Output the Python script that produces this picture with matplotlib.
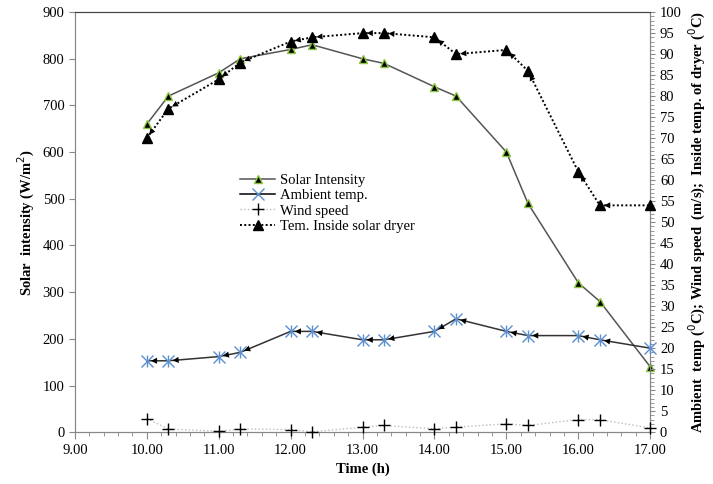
import matplotlib.pyplot as plt
from matplotlib.lines import Line2D
from matplotlib.ticker import MultipleLocator

plt.rcParams['font.family'] = ['Liberation Serif', 'DejaVu Serif']

# data
time = [10.0, 10.3, 11.0, 11.3, 12.0, 12.3, 13.0, 13.3, 14.0, 14.3, 15.0, 15.3, 16.0, 16.3, 17.0]
solar = [660, 720, 770, 800, 820, 830, 800, 790, 740, 720, 600, 490, 320, 280, 140]
ambient = [17, 17, 18, 19, 24, 24, 22, 22, 24, 27, 24, 23, 23, 22, 20]
wind = [3.2, 0.8, 0.2, 0.8, 0.6, 0.1, 1.2, 1.6, 0.8, 1.2, 2.0, 1.6, 3.0, 3.0, 1.0]
dryer = [70, 77, 84, 88, 93, 94, 95, 95, 94, 90, 91, 86, 62, 54, 54]

fig = plt.figure(figsize=(7.13, 4.84), dpi=100)
ax = fig.add_axes([0.105, 0.107, 0.807, 0.868])
ax2 = ax.twinx()

# solar intensity on left axis
ax.plot(time, solar, color='#555555', lw=1.1, marker='^', ms=6,
        mfc='black', mec='#8dc63f', mew=1.0, zorder=3, clip_on=False)

# ambient temp
ax2.plot(time, ambient, color='#333333', lw=1.1, zorder=3)
ax2.plot(time, ambient, ls='none', marker='x', ms=8, mec='#5b8fd1', mew=1.0, zorder=4, clip_on=False)
ax2.plot(time, ambient, ls='none', marker='|', ms=8, mec='#5b8fd1', mew=1.0, zorder=4, clip_on=False)
for i in range(len(time) - 1):
    ax2.annotate('', xy=(time[i], ambient[i]), xytext=(time[i + 1], ambient[i + 1]),
                 arrowprops=dict(arrowstyle='-|>', color='black', lw=0, mutation_scale=11,
                                 shrinkA=0, shrinkB=3))

# wind speed
ax2.plot(time, wind, color='#bbbbbb', lw=1.0, ls=':', marker='+', ms=9,
         mec='black', mew=1.0, zorder=3, clip_on=False)

# temperature inside dryer
ax2.plot(time, dryer, color='black', lw=1.4, ls=(0, (1, 1.2)), marker='^', ms=7,
         mfc='black', mec='black', zorder=3, clip_on=False)
for i in range(len(time) - 1):
    ax2.annotate('', xy=(time[i], dryer[i]), xytext=(time[i + 1], dryer[i + 1]),
                 arrowprops=dict(arrowstyle='-|>', color='black', lw=0, mutation_scale=11,
                                 shrinkA=0, shrinkB=3))

ax.set_xlim(9, 17)
ax.set_ylim(0, 900)
ax2.set_ylim(0, 100)
ax.xaxis.set_major_locator(MultipleLocator(1))
ax.xaxis.set_minor_locator(MultipleLocator(0.2))
ax.yaxis.set_major_locator(MultipleLocator(100))
ax2.yaxis.set_major_locator(MultipleLocator(5))
ax2.yaxis.set_minor_locator(MultipleLocator(1))
ax.set_xticklabels([f'{v:.2f}' for v in ax.get_xticks()])

for a in (ax, ax2):
    for s in a.spines.values():
        s.set_color('#888888')
    a.tick_params(colors='#888888', labelcolor='black', labelsize=10.5, direction='out')
    a.tick_params(which='minor', colors='#888888', length=3)
ax.spines['top'].set_color('#444444')
ax2.spines['top'].set_color('#444444')
ax.tick_params(axis='y', length=4)
ax.tick_params(axis='x', which='major', length=5)

ax.set_xlabel('Time (h)', fontweight='bold', fontsize=10.5)
ax.set_ylabel('Solar  intensity (W/m$^2$)', fontweight='bold', fontsize=10.5)
ax2.set_ylabel('Ambient  temp ($^0$C); Wind speed  (m/s);  Inside temp. of dryer ($^0$C)',
               fontweight='bold', fontsize=10.5)

handles = [
    Line2D([], [], color='#555555', lw=1.1, marker='^', ms=6, mfc='black', mec='#8dc63f'),
    Line2D([], [], color='black', lw=1.1, marker='x', ms=8, mec='#5b8fd1'),
    Line2D([], [], color='#bbbbbb', lw=1.0, ls=':', marker='+', ms=9, mec='black'),
    Line2D([], [], color='black', lw=1.4, ls=(0, (1, 1.2)), marker='^', ms=7, mfc='black', mec='black'),
]
labels = ['Solar Intensity', 'Ambient temp.', 'Wind speed', 'Tem. Inside solar dryer']
ax.legend(handles, labels, loc='upper left', bbox_to_anchor=(0.27, 0.64), frameon=False,
          fontsize=10.5, handlelength=2.4, labelspacing=0.15, borderpad=0.2, handletextpad=0.3)

fig.savefig('out.png', dpi=100)
